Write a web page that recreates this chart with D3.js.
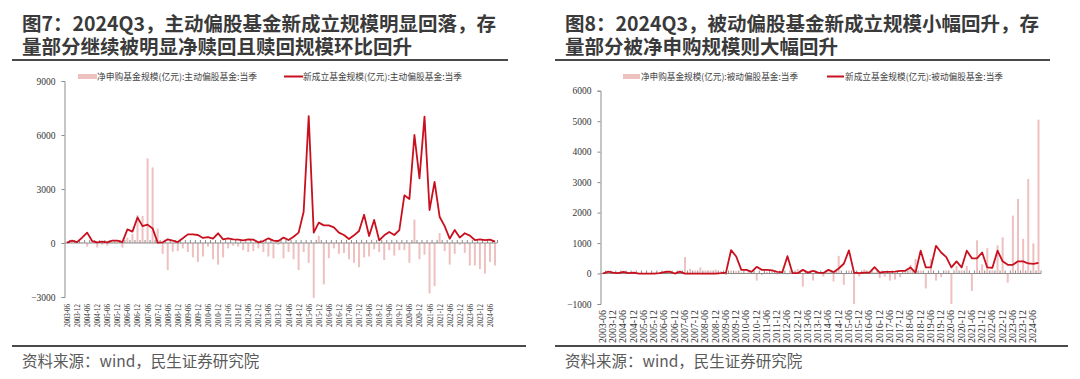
<!DOCTYPE html>
<html><head><meta charset="utf-8">
<script src="https://cdn.jsdelivr.net/npm/d3@7"></script>
<style>html,body{margin:0;padding:0;background:#fff;}svg{display:block;}</style>
</head><body>
<svg id="c" width="1080" height="379"></svg>
<script>
// ---- data ----
const quarters = [
"2003-06","2003-09","2003-12","2004-03","2004-06","2004-09","2004-12","2005-03","2005-06","2005-09","2005-12","2006-03",
"2006-06","2006-09","2006-12","2007-03","2007-06","2007-09","2007-12","2008-03","2008-06","2008-09","2008-12","2009-03",
"2009-06","2009-09","2009-12","2010-03","2010-06","2010-09","2010-12","2011-03","2011-06","2011-09","2011-12","2012-03",
"2012-06","2012-09","2012-12","2013-03","2013-06","2013-09","2013-12","2014-03","2014-06","2014-09","2014-12","2015-03",
"2015-06","2015-09","2015-12","2016-03","2016-06","2016-09","2016-12","2017-03","2017-06","2017-09","2017-12","2018-03",
"2018-06","2018-09","2018-12","2019-03","2019-06","2019-09","2019-12","2020-03","2020-06","2020-09","2020-12","2021-03",
"2021-06","2021-09","2021-12","2022-03","2022-06","2022-09","2022-12","2023-03","2023-06","2023-09","2023-12","2024-03",
"2024-06","2024-09"];
const tickLabels = ["2003-06","2003-12","2004-06","2004-12","2005-06","2005-12","2006-06","2006-12","2007-06","2007-12",
"2008-06","2008-12","2009-06","2009-12","2010-06","2010-12","2011-06","2011-12","2012-06","2012-12","2013-06","2013-12",
"2014-06","2014-12","2015-06","2015-12","2016-06","2016-12","2017-06","2017-12","2018-06","2018-12","2019-06","2019-12",
"2020-06","2020-12","2021-06","2021-12","2022-06","2022-12","2023-06","2023-12","2024-06"];

// Fig 7: active equity funds
const activeNetSub = [50,100,80,50,-200,50,-250,-100,-150,50,80,-260,
300,500,1550,1500,4700,4200,800,-600,-1500,-480,-450,-300,
-500,-800,-1050,-750,-200,-900,-1200,-800,-300,-150,-200,-400,
-500,-450,-300,-500,-750,-850,-100,-850,-500,-900,-1500,-500,
-1100,-3050,400,-2300,-850,-300,-600,-550,-900,-1100,-1350,-800,
-750,-350,-500,-950,-400,-700,-400,-400,-1100,1300,-900,-650,
-2800,-2400,550,-450,-1200,-600,-100,-550,-1250,-1250,-1450,-1700,
-1050,-1250];
const activeNew = [20,130,50,300,575,110,40,75,40,130,130,50,
760,630,1420,940,1020,810,20,40,200,130,55,260,
480,480,445,280,330,240,540,200,260,200,185,150,
200,185,40,110,260,130,110,300,165,350,575,1740,
7050,575,1130,980,980,870,575,445,220,425,665,1570,
390,1280,150,425,610,445,720,2650,2440,6000,3590,7020,
1830,3400,1460,940,240,720,300,540,410,165,200,165,
185,75];
const activeTicks = [-3000,0,3000,6000,9000];

// Fig 8: passive equity funds
const passiveNetSub = [30,40,20,30,50,20,10,20,10,20,30,20,
60,70,30,50,540,150,100,200,100,100,130,80,
-50,100,80,40,30,-20,-230,-50,60,80,-30,60,
-30,80,150,-430,60,-230,50,-100,60,-260,580,-370,
100,-1000,-100,140,60,50,-150,-100,-230,-200,-120,80,
285,480,100,-490,480,-230,-120,100,-1000,250,100,250,
-570,1090,300,830,100,930,1190,-300,1900,2450,1140,3100,
990,5050];
const passiveNew = [0,65,30,10,55,10,30,0,0,0,0,10,
50,65,0,60,0,0,0,0,0,0,0,10,
30,770,560,120,120,55,220,120,120,100,55,45,
570,10,10,120,30,90,30,20,120,45,165,320,
760,30,10,30,30,210,30,55,55,65,90,90,
200,30,750,200,200,910,690,540,200,400,200,750,
500,500,690,200,190,750,400,285,285,400,400,330,
320,350];
const passiveTicks = [-1000,0,1000,2000,3000,4000,5000,6000];

const titles7 = ["图7：2024Q3，主动偏股基金新成立规模明显回落，存","量部分继续被明显净赎回且赎回规模环比回升"];
const titles8 = ["图8：2024Q3，被动偏股基金新成立规模小幅回升，存","量部分被净申购规模则大幅回升"];
const legend7 = ["净申购基金规模(亿元):主动偏股基金:当季","新成立基金规模(亿元):主动偏股基金:当季"];
const legend8 = ["净申购基金规模(亿元):被动偏股基金:当季","新成立基金规模(亿元):被动偏股基金:当季"];
const sourceText = "资料来源：wind，民生证券研究院";

// ---- drawing ----
const svg = d3.select("#c");
svg.append("rect").attr("width",1080).attr("height",379).attr("fill","#fff");
const BAR = "#efc0c0", LINE = "#c8101e", AX = "#8c8c8c";
const CJK = "'Noto Sans CJK SC','Noto Sans',sans-serif";
const SERIF = "'Liberation Serif','DejaVu Serif',serif";

function panel(o){
  const g = svg.append("g");
  // title (one text, two lines)
  const tt = g.append("text").attr("font-family",CJK).attr("font-weight",700).attr("font-size",19.5)
     .attr("fill","#3a3a3a");
  o.titles.forEach((t,k)=>{
    tt.append("tspan").attr("x",o.titleX).attr("y",30.5+k*23.5).text(t);
  });
  g.append("line").attr("x1",o.ruleX1).attr("x2",o.titleRuleX2).attr("y1",60).attr("y2",60)
   .attr("stroke","#4a4a4a").attr("stroke-width",2.2);
  g.append("line").attr("x1",o.ruleX1).attr("x2",o.footRuleX2).attr("y1",346).attr("y2",346)
   .attr("stroke","#4a4a4a").attr("stroke-width",2.2);
  g.append("text").attr("x",o.titleX).attr("y",367).attr("font-family",CJK)
   .attr("font-size",15.5).attr("fill","#5a5a5a").text(sourceText);

  const x = d3.scalePoint().domain(quarters).range(o.xRange);
  const y = d3.scaleLinear().domain(d3.extent(o.ticks)).range(o.yRange);

  // y axis
  const ya = g.append("g").attr("transform",`translate(${o.axisX},0)`)
    .call(d3.axisLeft(y).tickValues(o.ticks).tickSize(3).tickPadding(6).tickFormat(d3.format("d")));
  ya.select(".domain").attr("stroke",AX);
  ya.selectAll(".tick line").attr("stroke",AX);
  ya.selectAll("text").attr("font-family",SERIF).attr("font-size",9.5).attr("fill","#333");

  // bars
  g.append("g").selectAll("rect").data(o.bars).join("rect")
    .attr("x",(d,i)=>x(quarters[i])-1).attr("width",2)
    .attr("y",d=>y(Math.max(0,d))).attr("height",d=>Math.abs(y(d)-y(0)))
    .attr("fill",BAR);

  // x axis (zero line) with quarterly ticks
  const xa = g.append("g").attr("transform",`translate(0,${y(0)})`);
  xa.append("line").attr("x1",o.axisX).attr("x2",o.xAxisEnd).attr("stroke",AX).attr("stroke-width",1);
  xa.selectAll("line.t").data(quarters).join("line").attr("class","t")
    .attr("x1",d=>x(d)+x.step()/2).attr("x2",d=>x(d)+x.step()/2)
    .attr("y1",-3).attr("y2",0).attr("stroke",AX);

  // tick labels at bottom
  g.append("g").selectAll("text").data(tickLabels).join("text")
    .attr("transform",d=>`translate(${x(d)+3},${o.labelTop}) rotate(-90)`)
    .attr("text-anchor","end").attr("font-family",SERIF).attr("font-size",o.labelSize)
    .attr("textLength",o.labelLen).attr("lengthAdjust","spacingAndGlyphs")
    .attr("fill","#333").text(d=>d);

  // line
  g.append("path").datum(o.line)
    .attr("d",d3.line().x((d,i)=>x(quarters[i])).y(d=>y(d)))
    .attr("fill","none").attr("stroke",LINE).attr("stroke-width",1.8).attr("stroke-linejoin","round");

  // legend
  const L = o.legend;
  g.append("rect").attr("x",L.r1).attr("y",74).attr("width",L.rw).attr("height",5).attr("fill",BAR);
  g.append("text").attr("x",L.t1).attr("y",80).attr("font-family",CJK).attr("font-size",9)
   .attr("fill","#444").attr("textLength",L.tl1).attr("lengthAdjust","spacingAndGlyphs").text(o.legendText[0]);
  g.append("line").attr("x1",L.l2).attr("x2",L.l2+L.lw).attr("y1",76.5).attr("y2",76.5)
   .attr("stroke",LINE).attr("stroke-width",2);
  g.append("text").attr("x",L.t2).attr("y",80).attr("font-family",CJK).attr("font-size",9)
   .attr("fill","#444").attr("textLength",L.tl2).attr("lengthAdjust","spacingAndGlyphs").text(o.legendText[1]);
}

panel({titles:titles7, titleX:22, ruleX1:12, titleRuleX2:508, footRuleX2:526,
  xRange:[67,495], yRange:[297,81], ticks:activeTicks, axisX:64.5, xAxisEnd:497,
  bars:activeNetSub, line:activeNew, labelTop:304, labelSize:9, labelLen:23,
  legend:{r1:78,rw:19,t1:97,tl1:160,l2:284,lw:19,t2:303,tl2:159}, legendText:legend7});

panel({titles:titles8, titleX:565, ruleX1:555, titleRuleX2:1050, footRuleX2:1068,
  xRange:[603,1038.5], yRange:[304,90.7], ticks:passiveTicks, axisX:600.5, xAxisEnd:1041,
  bars:passiveNetSub, line:passiveNew, labelTop:310, labelSize:10, labelLen:33,
  legend:{r1:623,rw:17,t1:641,tl1:157,l2:827,lw:17,t2:845,tl2:158}, legendText:legend8});
</script>
</body></html>
